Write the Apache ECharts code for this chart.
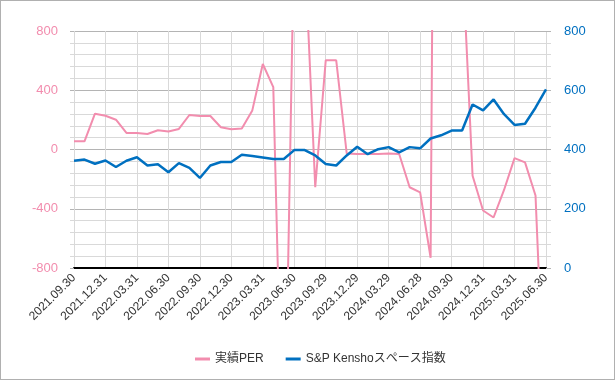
<!DOCTYPE html>
<html>
<head>
<meta charset="utf-8">
<script src="https://cdn.jsdelivr.net/npm/echarts@6/dist/echarts.min.js"></script>
<style>
html,body{margin:0;padding:0;background:#fff;}
#wrap{width:613px;height:378px;border:1px solid #b0b0b0;}
#chart{width:613px;height:378px;}
</style>
</head>
<body>
<div id="wrap"><div id="chart"></div></div>
<script>
const categories = [
"2021.09.30","2021.10.29","2021.11.30","2021.12.31",
"2022.01.31","2022.02.28","2022.03.31","2022.04.29","2022.05.31","2022.06.30",
"2022.07.29","2022.08.31","2022.09.30","2022.10.31","2022.11.30","2022.12.30",
"2023.01.31","2023.02.28","2023.03.31","2023.04.28","2023.05.31","2023.06.30",
"2023.07.31","2023.08.31","2023.09.29","2023.10.31","2023.11.30","2023.12.29",
"2024.01.31","2024.02.29","2024.03.29","2024.04.30","2024.05.31","2024.06.28",
"2024.07.31","2024.08.30","2024.09.30","2024.10.31","2024.11.29","2024.12.31",
"2025.01.31","2025.02.28","2025.03.31","2025.04.30","2025.05.30","2025.06.30"
];
const perValues = [55,55,242,228,201,112,112,105,130,121,139,233,226,226,150,137,141,264,577,421,-2400,1500,1350,-255,602,602,-27,-30,-30,-30,-27,-30,-255,-289,-731,10000,5000,1350,-177,-412,-459,-273,-58,-87,-311,-2000];
const indexValues = [362,366,352,363,341,362,374,346,350,323,354,338,304,346,358,358,382,378,373,368,368,398,398,380,351,346,380,409,384,401,408,390,408,404,437,448,464,464,552,532,569,519,483,487,541,603];
const seriesNames = ["実績PER","S&P Kenshoスペース指数"];

const pink = "#F28DAE";
const blue = "#0070C0";
const font = "'Liberation Sans', 'Noto Sans CJK JP', sans-serif";

const chart = echarts.init(document.getElementById('chart'));
chart.setOption({
  animation: false,
  textStyle: {fontFamily: font},
  grid: {left: 73, right: 68, top: 30, bottom: 111, containLabel: false},
  legend: {
    data: seriesNames,
    left: 189, top: 347,
    itemGap: 22, itemWidth: 15, itemHeight: 3,
    icon: 'rect',
    textStyle: {color: '#333', fontSize: 12, fontFamily: font}
  },
  xAxis: {
    type: 'category',
    data: categories,
    boundaryGap: false,
    axisLine: {onZero: false, lineStyle: {color: '#000', width: 2}},
    axisTick: {show: false},
    axisLabel: {interval: 2, rotate: 45, color: '#333', fontSize: 12, margin: 8, fontFamily: font},
    splitLine: {show: true, interval: 2, lineStyle: {color: '#d9d9d9', width: 1}}
  },
  yAxis: [
    {
      type: 'value', min: -800, max: 800, interval: 400,
      axisLine: {show: false},
      axisTick: {show: true, length: 4, lineStyle: {color: '#b4b4b4'}},
      minorTick: {show: true, splitNumber: 5, length: 4, lineStyle: {color: '#d9d9d9'}},
      axisLabel: {color: pink, fontSize: 13, margin: 16, fontFamily: font},
      splitLine: {show: true, lineStyle: {color: '#b4b4b4', width: 1}},
      minorSplitLine: {show: true, lineStyle: {color: '#d9d9d9', width: 1}}
    },
    {
      type: 'value', min: 0, max: 800, interval: 200,
      axisLine: {show: false},
      axisTick: {show: true, length: 5, lineStyle: {color: '#b4b4b4'}},
      minorTick: {show: true, splitNumber: 5, length: 5, lineStyle: {color: '#d9d9d9'}},
      axisLabel: {color: blue, fontSize: 13, margin: 18, fontFamily: font},
      splitLine: {show: false}
    }
  ],
  series: [
    {
      name: seriesNames[0], type: 'line', yAxisIndex: 0,
      data: perValues, showSymbol: false, symbol: 'none', clip: true,
      lineStyle: {color: pink, width: 2}, itemStyle: {color: pink}
    },
    {
      name: seriesNames[1], type: 'line', yAxisIndex: 1,
      data: indexValues, showSymbol: false, symbol: 'none',
      lineStyle: {color: blue, width: 2.5}, itemStyle: {color: blue}
    }
  ]
});
</script>
</body>
</html>
